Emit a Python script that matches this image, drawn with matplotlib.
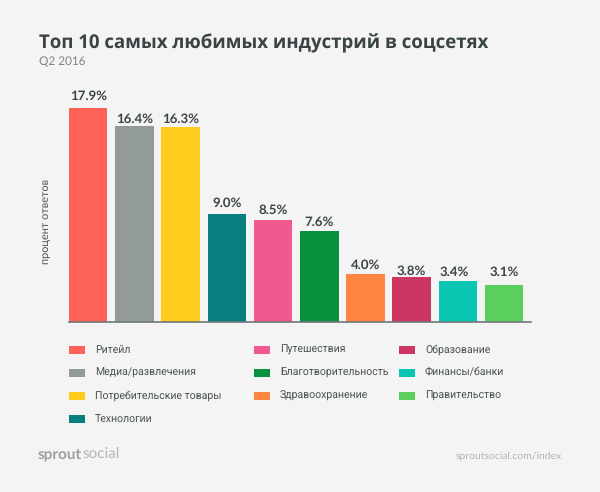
import matplotlib
matplotlib.use('Agg')
import matplotlib.pyplot as plt
from matplotlib.patches import Rectangle

categories = ['Ритейл', 'Медиа/развлечения', 'Потребительские товары', 'Технологии',
              'Путешествия', 'Благотворительность', 'Здравоохранение',
              'Образование', 'Финансы/банки', 'Правительство']
values = [17.9, 16.4, 16.3, 9.0, 8.5, 7.6, 4.0, 3.8, 3.4, 3.1]
colors = ['#fd6158', '#929a9a', '#ffcb1c', '#087e80', '#f1588f', '#08923f',
          '#fe8640', '#cd3562', '#09c5b1', '#5bcf5d']

W, H = 600, 492
text_dark = '#3b4444'
text_legend = '#4a5252'

plt.rcParams['font.family'] = ['Lato', 'Open Sans', 'DejaVu Sans']
plt.rcParams['text.hinting'] = 'no_hinting'

fig = plt.figure(figsize=(W / 100, H / 100), dpi=100, facecolor='#f4f4f4')
# axes box in pixels: x 69-531, baseline at y 322, 11.95 px per percent
top_val = 18.5
ax = fig.add_axes([69 / W, 1 - 322 / H, 462 / W, top_val * 11.95 / H])
ax.set_facecolor('none')

x = range(len(values))
ax.bar(x, values, width=0.833, color=colors)
# the labels sit unevenly above the bars in the original (dx, dy in px)
label_shift = [(0, 12), (0, 7), (0, 8), (0, 11), (0, 10), (0, 9), (0, 9), (0, 5), (-4, 9), (0, 13)]
for i, v, (dx, dy) in zip(x, values, label_shift):
    ax.annotate(f'{v:.1f}%', (i, v), xytext=(dx * 0.72, dy * 0.72), textcoords='offset points',
                ha='center', va='center', fontsize=9.5,
                color=text_dark, fontweight='bold', annotation_clip=False)

ax.set_xlim(-0.4167, 9.583)
ax.set_ylim(0, top_val)
ax.set_xticks([])
ax.set_yticks([])
for s in ['top', 'left', 'right']:
    ax.spines[s].set_visible(False)
ax.spines['bottom'].set_color('#6f7777')
ax.spines['bottom'].set_linewidth(1.2)

fig.text(39 / W, 1 - 43 / H, 'Топ 10 самых любимых индустрий в соцсетях', fontsize=13.4,
         fontweight='bold', family=['Open Sans', 'DejaVu Sans'], color=text_dark, va='center', ha='left')
fig.text(39 / W, 1 - 62 / H, 'Q2 2016', fontsize=8.5, color='#7c8484', va='center', ha='left')
fig.text(46 / W, 1 - 221 / H, 'процент ответов', fontsize=7.8, color=text_legend,
         rotation=90, va='center', ha='center')

# legend laid out by hand, columns are not evenly spaced in the original
col_x = [69, 254, 399]
col_rows = [4, 3, 3]
n = 0
for cx, rows in zip(col_x, col_rows):
    for r in range(rows):
        cy = 349.5 + r * 23.2
        fig.add_artist(Rectangle((cx / W, 1 - (cy + 4) / H), 16 / W, 8 / H,
                                 transform=fig.transFigure, color=colors[n], lw=0))
        fig.text((cx + 26) / W, 1 - cy / H, categories[n], fontsize=7.6, color=text_legend,
                 family=['Roboto', 'DejaVu Sans'], va='center', ha='left')
        n += 1

sprout = fig.text(38 / W, 1 - 454 / H, 'sprout', fontsize=11, fontweight='bold',
                  color='#9a9f9f', va='center', ha='left')
fig.canvas.draw()
bb = sprout.get_window_extent()
fig.text(bb.x1 / W, 1 - 454 / H, 'social', fontsize=11, color='#b3b7b7', va='center', ha='left')
fig.text(562 / W, 1 - 456 / H, 'sproutsocial.com/index', fontsize=7.5, color='#b0b4b4',
         va='center', ha='right')

fig.savefig('out.png', dpi=100, facecolor=fig.get_facecolor())
